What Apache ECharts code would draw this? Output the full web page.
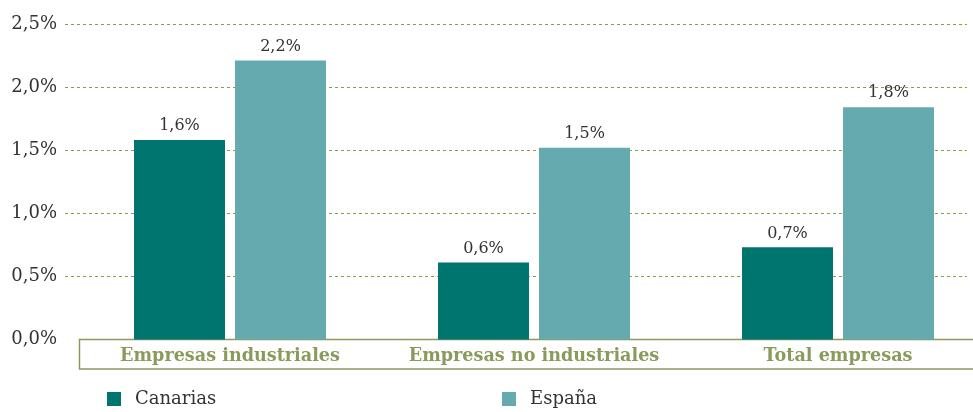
<!DOCTYPE html>
<html>
<head>
<meta charset="utf-8">
<script src="https://cdn.jsdelivr.net/npm/echarts@6/dist/echarts.min.js"></script>
<style>
  html, body { margin: 0; padding: 0; background: #fff; }
  #main { width: 973px; height: 412px; }
</style>
</head>
<body>
<div id="main"></div>
<script>
var categories = ['Empresas industriales', 'Empresas no industriales', 'Total empresas'];
var canarias = [1.58, 0.61, 0.73];
var espana = [2.21, 1.52, 1.84];

var olive = '#8a9a5b';
var fontFam = 'DejaVu Serif';

function pct(v, d) {
  return v.toFixed(d).replace('.', ',') + '%';
}

var chart = echarts.init(document.getElementById('main'), null, { renderer: 'canvas' });

var option = {
  backgroundColor: '#fff',
  animation: false,
  textStyle: { fontFamily: fontFam },
  grid: [
    // grid for the y axis + gridlines
    { left: 65, right: 6, top: 24, bottom: 72.5, outerBoundsMode: 'none' },
    // grid for the bars (categories are 304px wide, runs past the right edge)
    { left: 78, width: 912, top: 24, bottom: 72.5, outerBoundsMode: 'none' }
  ],
  // open-ended frame around the category labels
  graphic: [{
    type: 'polyline',
    shape: { points: [[1000, 339.5], [79.5, 339.5], [79.5, 369], [1000, 369]] },
    style: { fill: null, stroke: olive, lineWidth: 1.5 },
    z: 1
  }],
  legend: [{
    data: ['Canarias'],
    left: 102, top: 385,
    itemWidth: 14, itemHeight: 14, icon: 'rect',
    textStyle: { fontFamily: fontFam, fontSize: 18, color: '#333', padding: [0, 0, 0, 9] }
  }, {
    data: ['España'],
    left: 497, top: 385,
    itemWidth: 14, itemHeight: 14, icon: 'rect',
    textStyle: { fontFamily: fontFam, fontSize: 18, color: '#333', padding: [0, 0, 0, 9] }
  }],
  xAxis: [{
    gridIndex: 0, type: 'value', show: false, min: 0, max: 1
  }, {
    gridIndex: 1,
    type: 'category',
    data: categories,
    axisLine: { show: false },
    axisTick: { show: false },
    axisLabel: {
      interval: 0,
      hideOverlap: false,
      margin: 8,
      fontFamily: fontFam,
      fontWeight: 'bold',
      fontSize: 17.6,
      color: olive
    },
    z: 5
  }],
  yAxis: [{
    gridIndex: 0,
    type: 'value',
    min: 0, max: 2.5, interval: 0.5,
    axisLine: { show: false },
    axisTick: { show: false },
    axisLabel: {
      margin: 8,
      fontFamily: fontFam,
      fontSize: 18,
      color: '#333',
      formatter: function (v) { return pct(v, 1); }
    },
    splitLine: {
      showMinLine: false,
      lineStyle: { color: '#8d9b45', type: [3, 3], width: 1 }
    }
  }, {
    gridIndex: 1,
    type: 'value',
    min: 0, max: 2.5, interval: 0.5,
    show: false
  }],
  series: [{
    name: 'Canarias',
    type: 'bar',
    xAxisIndex: 1, yAxisIndex: 1,
    data: canarias,
    barWidth: 91,
    barGap: '11%',
    itemStyle: { color: '#007570' },
    label: {
      show: true, position: 'top', distance: 6,
      fontFamily: fontFam, fontSize: 16, color: '#333',
      formatter: function (p) { return pct(p.value, 1); }
    }
  }, {
    name: 'España',
    type: 'bar',
    xAxisIndex: 1, yAxisIndex: 1,
    data: espana,
    barWidth: 91,
    barGap: '11%',
    itemStyle: { color: '#64aaae' },
    label: {
      show: true, position: 'top', distance: 6,
      fontFamily: fontFam, fontSize: 16, color: '#333',
      formatter: function (p) { return pct(p.value, 1); }
    }
  }]
};

chart.setOption(option);
</script>
</body>
</html>
